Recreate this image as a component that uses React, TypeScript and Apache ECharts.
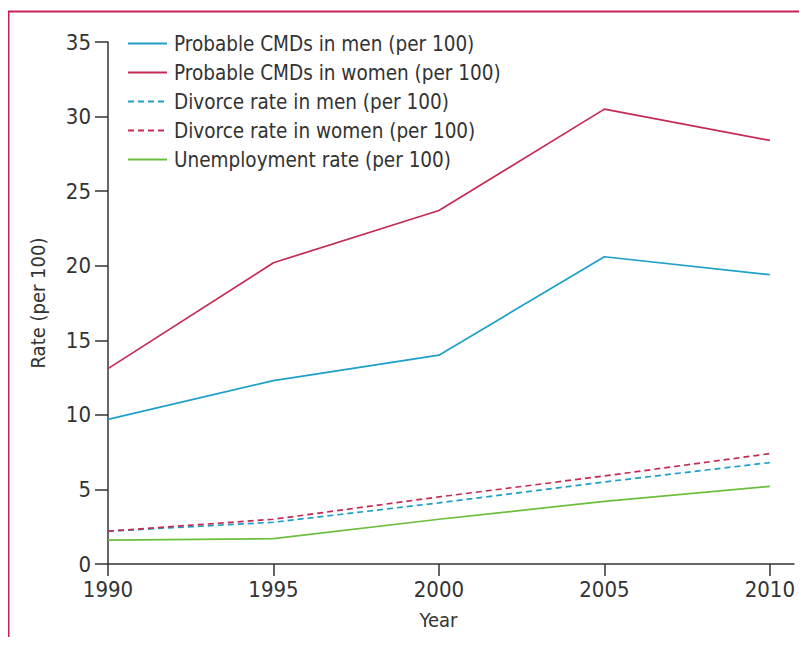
import React, { useEffect, useRef } from "react";
import * as echarts from "echarts";

const years = [1990, 1995, 2000, 2005, 2010];
const cmdMen = [9.7, 12.3, 14.0, 20.6, 19.4];
const cmdWomen = [13.1, 20.2, 23.7, 30.5, 28.4];
const divorceMen = [2.2, 2.8, 4.1, 5.5, 6.8];
const divorceWomen = [2.2, 3.0, 4.5, 5.9, 7.4];
const unemployment = [1.6, 1.7, 3.0, 4.2, 5.2];

const FONT = "'Liberation Sans Narrow', 'DejaVu Sans Condensed', 'Open Sans', sans-serif";
const BLUE = "#1ea0c8";
const RED = "#c62a52";
const GREEN = "#6cbf3c";
const INK = "#333333";

const pairs = (vals: number[]) => years.map((y, i) => [y, vals[i]]);

export default function App() {
  const ref = useRef<HTMLDivElement>(null);
  useEffect(() => {
    if (!ref.current) return;
    const chart = echarts.init(ref.current, undefined, { renderer: "svg" });
    const mk = (name: string, vals: number[], color: string, dashed: boolean) => ({
      name,
      type: "line",
      data: pairs(vals),
      symbol: "none",
      lineStyle: { color, width: 1.7, type: dashed ? [6, 4] : "solid" },
      itemStyle: { color },
    });
    chart.setOption({
      animation: false,
      textStyle: { fontFamily: FONT },
      grid: { left: 108, right: 13, top: 42, bottom: 81, containLabel: false },
      legend: {
        orient: "vertical",
        left: 127,
        top: 33,
        padding: 0,
        itemWidth: 39,
        itemHeight: 14,
        itemGap: 8,
        itemStyle: { opacity: 0 },
        textStyle: { fontFamily: FONT, fontSize: 20.5, color: INK, lineHeight: 21, padding: [0, 0, 0, 2] },
        data: [
          "Probable CMDs in men (per 100)",
          "Probable CMDs in women (per 100)",
          "Divorce rate in men (per 100)",
          "Divorce rate in women (per 100)",
          "Unemployment rate (per 100)",
        ],
      },
      xAxis: {
        type: "value",
        min: 1990,
        max: 2010.73,
        interval: 5,
        splitLine: { show: false },
        axisLine: { show: true, onZero: false, lineStyle: { color: INK, width: 1.5 } },
        axisTick: { show: true, length: 12, customValues: years, lineStyle: { color: INK, width: 1.5 } },
        axisLabel: {
          customValues: years,
          fontFamily: FONT,
          fontSize: 22,
          color: INK,
          margin: 14,
          formatter: (v: number) => String(v),
        },
      },
      yAxis: {
        type: "value",
        min: 0,
        max: 35,
        interval: 5,
        name: "Rate (per 100)",
        nameLocation: "middle",
        nameGap: 60,
        nameTextStyle: { fontFamily: FONT, fontSize: 20, color: INK },
        splitLine: { show: false },
        axisLine: { show: true, lineStyle: { color: INK, width: 1.5 } },
        axisTick: { show: true, length: 13, lineStyle: { color: INK, width: 1.5 } },
        axisLabel: { fontFamily: FONT, fontSize: 22, color: INK, margin: 17 },
      },
      graphic: [
        { type: "line", shape: { x1: 8, y1: 11.5, x2: 807, y2: 11.5 }, style: { stroke: "#c8205a", lineWidth: 2 } },
        { type: "line", shape: { x1: 8.5, y1: 11, x2: 8.5, y2: 645 }, style: { stroke: "#c8205a", lineWidth: 2 } },
        {
          type: "text",
          x: 438.5,
          y: 620,
          style: { text: "Year", fontFamily: FONT, fontSize: 20, fill: INK, align: "center", verticalAlign: "middle" },
        },
      ],
      series: [
        mk("Probable CMDs in men (per 100)", cmdMen, BLUE, false),
        mk("Probable CMDs in women (per 100)", cmdWomen, RED, false),
        mk("Divorce rate in men (per 100)", divorceMen, BLUE, true),
        mk("Divorce rate in women (per 100)", divorceWomen, RED, true),
        mk("Unemployment rate (per 100)", unemployment, GREEN, false),
      ],
    });
    return () => chart.dispose();
  }, []);
  return <div ref={ref} style={{ width: 807, height: 645, margin: -8, background: "#fff" }} />;
}
